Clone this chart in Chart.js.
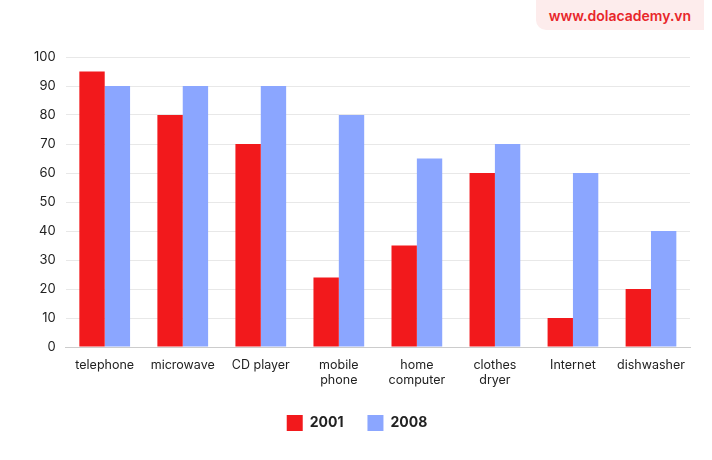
<!DOCTYPE html>
<html>
<head>
<meta charset="utf-8">
<script src="https://cdn.jsdelivr.net/npm/chart.js@4"></script>
<style>
body { margin: 0; background: #fff; font-family: Inter, sans-serif; }
#wrap { position: relative; width: 712px; height: 460px; }
#brand { position: absolute; right: 8px; top: 0; width: 168px; height: 30px; background: #fdecec;
  border-radius: 0 0 0 10px; color: #e8262a; font: 600 14px Inter, sans-serif; text-align: center; line-height: 32px; }
</style>
</head>
<body>
<div id="wrap">
<canvas id="myChart" width="712" height="460"></canvas>
<div id="brand">www.dolacademy.vn</div>
</div>
<script>
const labels = ["telephone", "microwave", "CD player", ["mobile", "phone"], ["home", "computer"], ["clothes", "dryer"], "Internet", "dishwasher"];
const values2001 = [95, 80, 70, 24, 35, 60, 10, 20];
const values2008 = [90, 90, 90, 80, 65, 70, 60, 40];

const ctx = document.getElementById('myChart');
new Chart(ctx, {
    type: 'bar',
    data: {
        labels: labels,
        datasets: [
            { label: '2001', data: values2001, backgroundColor: '#f2191c' },
            { label: '2008', data: values2008, backgroundColor: '#8ba6ff' }
        ]
    },
    options: {
        responsive: false,
        animation: false,
        layout: { padding: { top: 57, right: 22, left: 24, bottom: 19 } },
        datasets: { bar: { categoryPercentage: 0.65, barPercentage: 1 } },
        scales: {
            x: {
                grid: { display: false },
                border: { color: '#cccccc' },
                ticks: { color: '#222', font: { family: 'Inter', size: 12.5 }, maxRotation: 0 }
            },
            y: {
                min: 0, max: 100,
                ticks: { stepSize: 10, color: '#222', font: { family: 'Inter', size: 13 }, padding: 10 },
                grid: { color: '#e8e8e8', drawTicks: false },
                border: { display: false }
            }
        },
        plugins: {
            legend: {
                position: 'bottom',
                labels: { color: '#222', font: { family: 'Inter', size: 14, weight: 'bold' }, boxWidth: 16, boxHeight: 16, padding: 24 }
            }
        }
    }
});
</script>
</body>
</html>
